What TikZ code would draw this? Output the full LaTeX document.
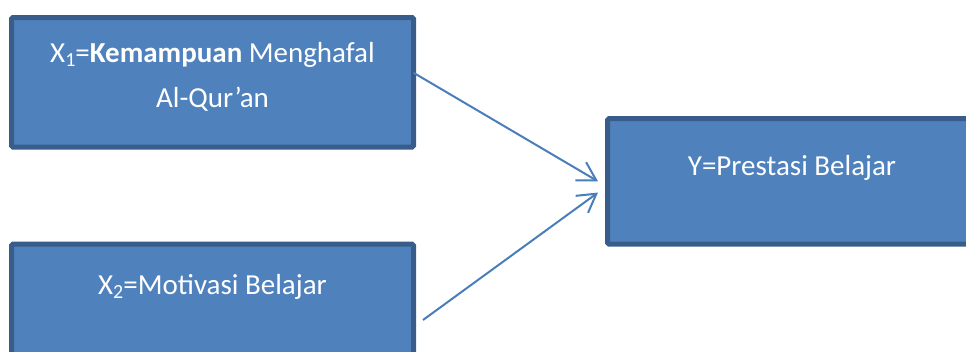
\documentclass[tikz,border=0pt]{standalone}
\usepackage{fontspec}
\setmainfont{Carlito}
\usetikzlibrary{arrows.meta}
\definecolor{boxfill}{HTML}{4F81BD}
\definecolor{boxline}{HTML}{385D8A}
\definecolor{arrowblue}{HTML}{4A7EBB}
% subscript index in the variable names
\newcommand\subidx[1]{\raisebox{-0.16em}{\fontsize{20}{20}\selectfont#1}}
\begin{document}
\begin{tikzpicture}[x=1pt,y=-1pt,
  varbox/.style={draw=boxline, fill=boxfill, line width=5pt, rounded corners=1.5pt,
    inner sep=0pt, outer sep=0pt, anchor=north west},
  label/.style={text=white, anchor=base, inner sep=0pt,
    font=\fontsize{29}{35}\selectfont},
  conn/.style={draw=arrowblue, line width=2pt,
    -{Straight Barb[length=18pt, width=21pt, line width=2pt]}}]
\useasboundingbox (0,0) rectangle (966,351);
\clip (0,0) rectangle (966,351);

% variable boxes
\node[varbox, minimum width=402pt, minimum height=129.5pt] (x1) at (11.5,17.5) {};
\node[varbox, minimum width=402pt, minimum height=130pt] (x2) at (11.5,244.2) {};
\node[varbox, minimum width=370pt, minimum height=125.7pt] (yv) at (607.7,118.5) {};

% box texts
\node[label] (x1a) at (212.5,62) {X\subidx{1}=\textbf{Kemampuan} Menghafal};
\node[label] (x1b) at (212.5,107) {Al-Qur’an};
\node[label] (x2t) at (212.5,294) {X\subidx{2}=Motivasi Belajar};
\node[label] (yt) at (792,175) {Y=Prestasi Belajar};

% connector ends
\coordinate (s1) at ([yshift=9.5pt]x1.east);
\coordinate (s2) at (423,320);
\coordinate (e1) at ([xshift=-9.7pt]yv.west);
\coordinate (e2) at ([xshift=-9.7pt, yshift=-11.2pt]yv.west);

\draw[conn] (s1) -- (e1);
\draw[conn] (s2) -- (e2);
\end{tikzpicture}
\end{document}
